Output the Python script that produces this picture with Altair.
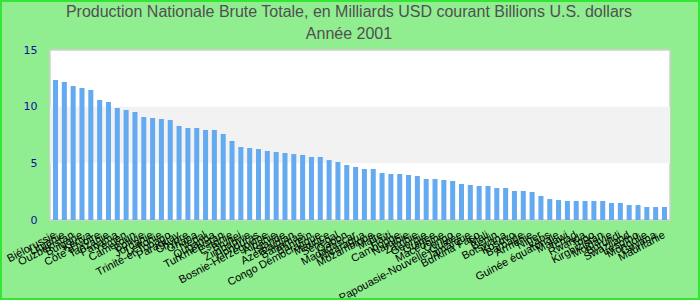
import altair as alt
import pandas as pd

pays = [
    "Biélorussie", "Lituanie", "Ouzbékistan", "Bulgarie", "Kenya", "Côte d'Ivoire",
    "Tanzanie", "Panama", "Yémen", "Cameroun", "Bolivie", "Jordanie", "Lettonie",
    "Trinité-et-Tobago", "Paraguay", "Chypre", "Ghana", "Népal", "Ouganda",
    "Turkménistan", "Estonie", "Brunei", "Zimbabwe", "Honduras", "Bosnie-Herzégovine",
    "Albanie", "Islande", "Azerbaïdjan", "Bahamas", "Bahreïn", "Congo Démocratique",
    "Maurice", "Sénégal", "Gabon", "Madagascar", "Nicaragua", "Mozambique", "Malte",
    "Haïti", "Cambodge", "Namibie", "Zambie", "Géorgie", "Guinée", "Macédoine",
    "Congo", "Papouasie-Nouvelle-Guinée", "Jamaïque", "Burkina Faso", "Mali", "Bénin",
    "Botswana", "Kosovo", "Barbade", "Arménie", "Niger", "Laos", "Guinée équatoriale",
    "Malawi", "Tchad", "Rwanda", "Togo", "Kirghizistan", "Moldavie", "Burundi",
    "Swaziland", "Lesotho", "Mongolie", "Guyana", "Mauritanie",
]

valeurs = [
    12.35, 12.18, 11.82, 11.65, 11.47, 10.59, 10.41, 9.88, 9.71, 9.53,
    9.09, 9.00, 8.91, 8.82, 8.29, 8.12, 8.12, 7.94, 7.94, 7.59,
    6.97, 6.44, 6.35, 6.26, 6.09, 6.00, 5.91, 5.82, 5.74, 5.56,
    5.56, 5.29, 5.12, 4.85, 4.68, 4.50, 4.50, 4.15, 4.06, 4.06,
    3.97, 3.88, 3.62, 3.62, 3.53, 3.44, 3.18, 3.09, 3.00, 3.00,
    2.82, 2.82, 2.56, 2.56, 2.47, 2.12, 1.85, 1.76, 1.68, 1.68,
    1.68, 1.68, 1.68, 1.50, 1.50, 1.32, 1.32, 1.15, 1.15, 1.15,
]

bande_bas = [5]
bande_haut = [10]

titre_ligne1 = ["Production Nationale Brute Totale, en Milliards USD courant Billions U.S. dollars"]
titre_ligne2 = ["Année 2001"]

df = pd.DataFrame({"pays": pays, "valeur": valeurs})
bands = pd.DataFrame({"y0": bande_bas, "y1": bande_haut})

yscale = alt.Scale(domain=[0, 15], nice=False)
yaxis = alt.Axis(
    values=[0, 5, 10, 15], grid=False, ticks=False, domain=False,
    labelFont="DejaVu Sans", labelFontSize=11, labelColor="#10109a",
    labelPadding=13,
)

band_layer = alt.Chart(bands).mark_rect(color="#f2f2f2").encode(
    x=alt.value(0), x2=alt.value(620),
    y=alt.Y("y0:Q", scale=yscale, axis=yaxis, title=None),
    y2="y1:Q",
)

bars = alt.Chart(df).mark_bar(color="#64aaf0").encode(
    x=alt.X(
        "pays:N", sort=None, title=None,
        scale=alt.Scale(paddingInner=0.43, paddingOuter=0.34),
        axis=alt.Axis(
            labelAngle=-28, labelAlign="right", labelBaseline="middle",
            labelOverlap=False, labelFont="Liberation Sans", labelFontSize=11,
            labelColor="#000000", ticks=False, domain=False, labelPadding=14,
            labelLimit=0,
        ),
    ),
    y=alt.Y("valeur:Q", scale=yscale, title=None, axis=yaxis),
)

def title_line(texts, ypos, size):
    return alt.Chart(pd.DataFrame({"t": texts})).mark_text(
        font="Liberation Sans", fontSize=size, color="#505050",
        align="center", baseline="middle", clip=False,
    ).encode(text="t:N", x=alt.value(299), y=alt.value(ypos))

t1 = title_line(titre_ligne1, -38, 16)
t2 = title_line(titre_ligne2, -16, 16)

border = alt.Chart(df).mark_rect(
    fill=None, stroke="#33e633", strokeWidth=2, clip=False
).encode(
    x=alt.value(-49), x2=alt.value(649), y=alt.value(-49), y2=alt.value(249),
)

chart = alt.layer(band_layer, bars, t1, t2, border).properties(
    width=620,
    height=170,
    padding={"left": 50, "top": 50, "right": 30, "bottom": 80},
    autosize=alt.AutoSizeParams(type="none"),
    background="#90ee90",
).configure_view(
    fill="#ffffff", stroke="#d0d0d0", strokeWidth=1.5,
)

chart.save("out.html", embed_options={"renderer": "svg", "actions": False})
